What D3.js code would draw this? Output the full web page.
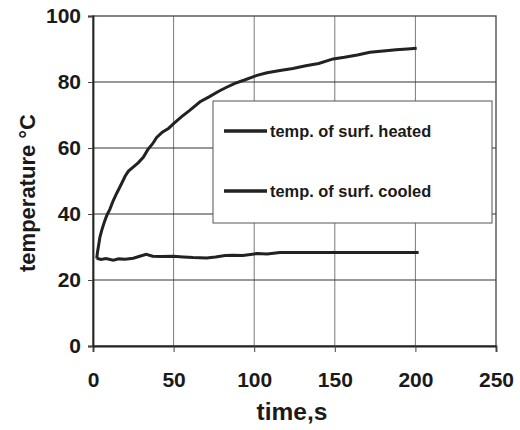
<!DOCTYPE html>
<html lang="en">
<head>
<meta charset="UTF-8">
<title>Surface temperature vs time</title>
<script src="https://d3js.org/d3.v7.min.js"></script>
<style>
  body { margin: 0; background: #fff; }
  svg text { font-family: "Liberation Sans", Arial, sans-serif; font-weight: bold; fill: #1a1a1a; }
</style>
</head>
<body>
<div id="chart"></div>
<script>

// values
const heatedTime  = [2.3, 2.8, 3.5, 4.3, 5.5, 7, 8.5, 10.5, 12.5, 14.7, 17, 20, 22, 24.9, 28, 31.2, 34, 37, 39.5, 43, 47, 50, 55, 60, 66.4, 72, 78, 82.9, 88, 94, 101.7, 108, 116, 124, 132, 140, 149, 156, 164, 171.8, 180, 188, 195, 200.8];
const heatedTemp  = [26.5, 28.5, 30.5, 33, 35.2, 37.5, 39.5, 41.5, 44, 46.3, 48.5, 51.5, 53, 54.2, 55.5, 57.2, 59.5, 61.3, 63.2, 64.8, 66, 67.4, 69.5, 71.4, 74, 75.5, 77.2, 78.4, 79.6, 80.6, 82, 82.8, 83.5, 84.1, 84.9, 85.6, 87, 87.5, 88.2, 89, 89.4, 89.8, 90, 90.2];

const cooledTime  = [2.3, 5, 8, 12.6, 16, 20, 25, 29, 33, 37, 42, 50, 56, 62, 70.5, 76, 82, 87, 93, 101.5, 108, 116, 130, 150, 170, 190, 202];
const cooledTemp  = [26.6, 26.2, 26.5, 26, 26.4, 26.3, 26.6, 27.2, 27.8, 27.2, 27.1, 27.2, 27, 26.8, 26.7, 27, 27.4, 27.5, 27.4, 28, 27.9, 28.3, 28.3, 28.3, 28.3, 28.3, 28.3];

const xTicks = [0, 50, 100, 150, 200, 250];
const yTicks = [0, 20, 40, 60, 80, 100];
const legendLabels = ["temp. of surf. heated", "temp. of surf. cooled"];

const width = 520, height = 430;
const margin = {top: 16, right: 24, bottom: 84, left: 93};

const svg = d3.select("#chart").append("svg")
    .attr("width", width)
    .attr("height", height);

const x = d3.scaleLinear().domain([0, 250]).range([margin.left, width - margin.right]);
const y = d3.scaleLinear().domain([0, 100]).range([height - margin.bottom, margin.top]);

// vertical grid (lighter)
svg.append("g")
    .selectAll("line")
    .data(xTicks.slice(1, -1))
    .join("line")
    .attr("x1", d => x(d)).attr("x2", d => x(d))
    .attr("y1", y(0)).attr("y2", y(100))
    .attr("stroke", "#7a7a7a")
    .attr("stroke-width", 1);

// horizontal grid (darker)
svg.append("g")
    .selectAll("line")
    .data(yTicks.slice(1, -1))
    .join("line")
    .attr("x1", x(0)).attr("x2", x(250))
    .attr("y1", d => y(d)).attr("y2", d => y(d))
    .attr("stroke", "#333")
    .attr("stroke-width", 1);

// frame
svg.append("rect")
    .attr("x", x(0)).attr("y", y(100))
    .attr("width", x(250) - x(0)).attr("height", y(0) - y(100))
    .attr("fill", "none")
    .attr("stroke", "#444")
    .attr("stroke-width", 1.3);

// axes
const xAxis = svg.append("g")
    .attr("transform", `translate(0,${y(0)})`)
    .call(d3.axisBottom(x).tickValues(xTicks).tickSize(6).tickPadding(20).tickFormat(d3.format("d")));
const yAxis = svg.append("g")
    .attr("transform", `translate(${x(0)},0)`)
    .call(d3.axisLeft(y).tickValues(yTicks).tickSize(5).tickPadding(7).tickFormat(d3.format("d")));

[xAxis, yAxis].forEach(g => {
    g.select(".domain").attr("stroke", "#222").attr("stroke-width", 1.8);
    g.selectAll(".tick line").attr("stroke", "#444");
    g.selectAll(".tick text").attr("font-size", 21).attr("fill", "#1a1a1a");
});
xAxis.selectAll(".tick text").attr("dy", "0.71em");

// data lines
const line = d3.line()
    .x(d => x(d[0]))
    .y(d => y(d[1]));

svg.append("path")
    .datum(d3.zip(heatedTime, heatedTemp))
    .attr("fill", "none")
    .attr("stroke", "#222")
    .attr("stroke-width", 3)
    .attr("d", line);

svg.append("path")
    .datum(d3.zip(cooledTime, cooledTemp))
    .attr("fill", "none")
    .attr("stroke", "#222")
    .attr("stroke-width", 3)
    .attr("d", line);

// legend
const legend = svg.append("g").attr("transform", "translate(213,101)");
legend.append("rect")
    .attr("width", 279).attr("height", 122)
    .attr("fill", "#fff")
    .attr("stroke", "#555")
    .attr("stroke-width", 1);

const item = legend.selectAll("g.item")
    .data(legendLabels)
    .join("g")
    .attr("class", "item")
    .attr("transform", (d, i) => `translate(0,${30 + i * 60})`);
item.append("line")
    .attr("x1", 11).attr("x2", 54)
    .attr("stroke", "#222")
    .attr("stroke-width", 3.5);
item.append("text")
    .attr("x", 57)
    .attr("dy", "0.35em")
    .attr("font-size", 16.4)
    .text(d => d);

// axis titles
svg.append("text")
    .attr("x", 292).attr("y", 420)
    .attr("text-anchor", "middle")
    .attr("font-size", 24.5)
    .text("time,s");

svg.append("text")
    .attr("transform", "translate(35,193) rotate(-90)")
    .attr("text-anchor", "middle")
    .attr("font-size", 22)
    .text("temperature °C");

</script>
</body>
</html>
